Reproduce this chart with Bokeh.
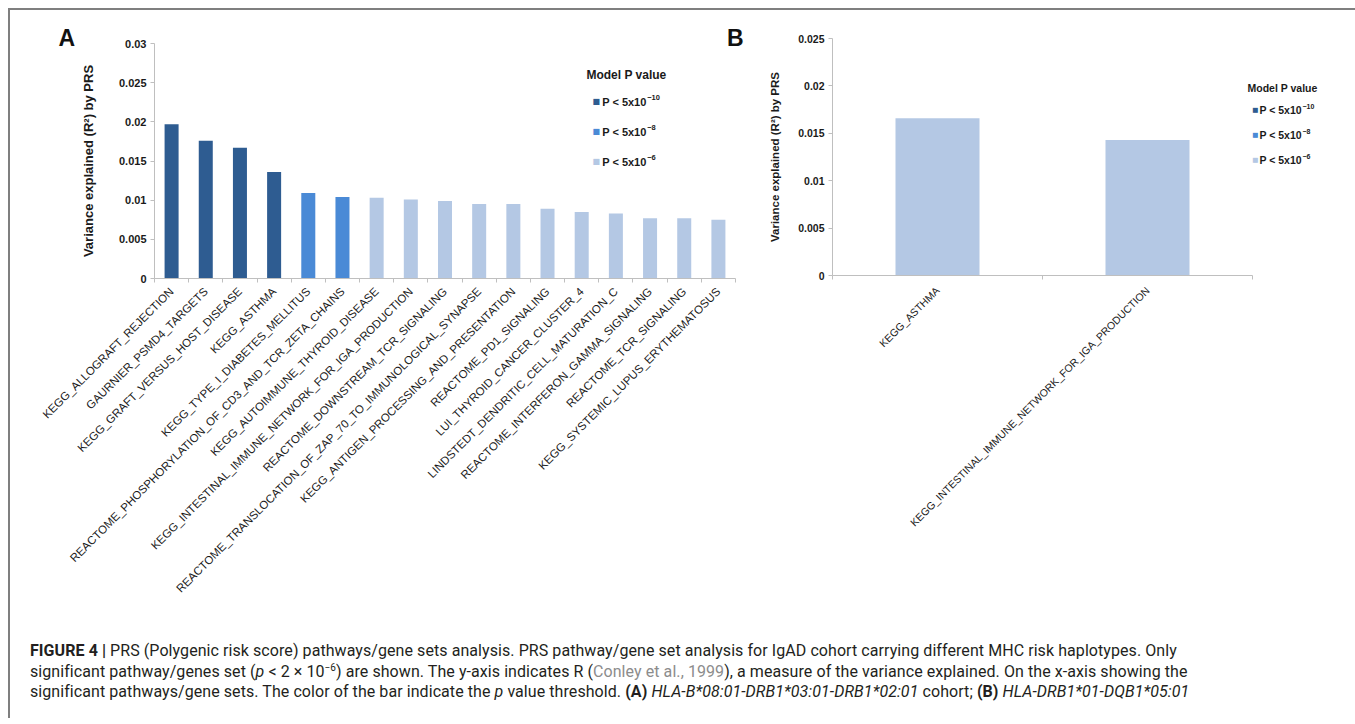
import math
from bokeh.plotting import figure
from bokeh.models import (Range1d, LinearAxis, FixedTicker, Label, Div, ColumnDataSource)
from bokeh.layouts import row, column
from bokeh.embed import file_html
from bokeh.resources import INLINE

# ---------------- data ----------------
cats_a = [
    "KEGG_ALLOGRAFT_REJECTION",
    "GAURNIER_PSMD4_TARGETS",
    "KEGG_GRAFT_VERSUS_HOST_DISEASE",
    "KEGG_ASTHMA",
    "KEGG_TYPE_I_DIABETES_MELLITUS",
    "REACTOME_PHOSPHORYLATION_OF_CD3_AND_TCR_ZETA_CHAINS",
    "KEGG_AUTOIMMUNE_THYROID_DISEASE",
    "KEGG_INTESTINAL_IMMUNE_NETWORK_FOR_IGA_PRODUCTION",
    "REACTOME_DOWNSTREAM_TCR_SIGNALING",
    "REACTOME_TRANSLOCATION_OF_ZAP_70_TO_IMMUNOLOGICAL_SYNAPSE",
    "KEGG_ANTIGEN_PROCESSING_AND_PRESENTATION",
    "REACTOME_PD1_SIGNALING",
    "LUI_THYROID_CANCER_CLUSTER_4",
    "LINDSTEDT_DENDRITIC_CELL_MATURATION_C",
    "REACTOME_INTERFERON_GAMMA_SIGNALING",
    "REACTOME_TCR_SIGNALING",
    "KEGG_SYSTEMIC_LUPUS_ERYTHEMATOSUS",
]
vals_a = [0.0197, 0.0176, 0.0167, 0.0136, 0.0109, 0.0104, 0.0103, 0.0101,
          0.0099, 0.0095, 0.0095, 0.0089, 0.0085, 0.0083, 0.0077, 0.0077, 0.0075]
groups_a = ["p10"] * 4 + ["p8"] * 2 + ["p6"] * 11

cats_b = ["KEGG_ASTHMA", "KEGG_INTESTINAL_IMMUNE_NETWORK_FOR_IGA_PRODUCTION"]
vals_b = [0.0166, 0.0143]
groups_b = ["p6", "p6"]

legend_keys = ["p10", "p8", "p6"]
legend_main = ["P < 5x10", "P < 5x10", "P < 5x10"]
legend_exp = ["\u221210", "\u22128", "\u22126"]
colors = {"p10": "#2E5C91", "p8": "#4A8AD6", "p6": "#B4C8E4"}

yticks_a = [0, 0.005, 0.01, 0.015, 0.02, 0.025, 0.03]
yticks_b = [0, 0.005, 0.01, 0.015, 0.02, 0.025]
ylabel = "Variance explained (R\u00b2) by PRS"
panel_letters = "A" + "\u00a0" * 102 + "B"

AXIS_GREY = "#BFBFBF"
TXT = "#1a1a1a"
FONT = "Liberation Sans"


def make_panel(cats, vals, groups, yticks, width, height, left, top, frame_w, frame_h,
               x_end, bar_w, tick_fs, ylab_fs, xlab_fs, ylab_standoff, xlab_standoff):
    right = width - left - frame_w
    bottom = height - top - frame_h
    n = len(cats)
    p = figure(x_range=Range1d(0, x_end), y_range=Range1d(0, yticks[-1]),
               width=width, height=height, output_backend="svg",
               toolbar_location=None, x_axis_location=None,
               min_border_left=left, min_border_right=right,
               min_border_top=top, min_border_bottom=bottom)
    p.outline_line_color = None
    p.grid.visible = False
    p.background_fill_color = "white"
    p.border_fill_color = "white"

    centers = [i + 0.5 for i in range(n)]
    src = ColumnDataSource(dict(x=centers, cat=cats, val=vals,
                                color=[colors[g] for g in groups]))
    p.vbar(x="x", top="val", width=bar_w, source=src,
           fill_color="color", line_color=None)

    ya = p.yaxis[0]
    ya.ticker = FixedTicker(ticks=yticks)
    ya.major_label_overrides = {t: f"{t:g}" for t in yticks}
    ya.minor_tick_line_color = None
    ya.axis_line_color = AXIS_GREY
    ya.major_tick_line_color = AXIS_GREY
    ya.major_tick_in = 0
    ya.major_tick_out = 4
    ya.major_label_standoff = 4
    ya.major_label_text_font = FONT
    ya.major_label_text_font_style = "bold"
    ya.major_label_text_font_size = tick_fs
    ya.major_label_text_color = TXT
    ya.axis_label = ylabel
    ya.axis_label_text_font = FONT
    ya.axis_label_text_font_style = "bold"
    ya.axis_label_text_font_size = ylab_fs
    ya.axis_label_text_color = TXT
    ya.axis_label_standoff = ylab_standoff

    # category names at bar centres, small ticks at category boundaries
    ca = LinearAxis(ticker=FixedTicker(ticks=centers,
                                       minor_ticks=list(range(n + 1))),
                    bounds=(0, n))
    ca.major_label_overrides = {c: name for c, name in zip(centers, cats)}
    ca.axis_line_color = AXIS_GREY
    ca.major_tick_line_color = None
    ca.major_tick_out = 0
    ca.major_tick_in = 0
    ca.minor_tick_line_color = AXIS_GREY
    ca.minor_tick_out = 4
    ca.minor_tick_in = 0
    ca.major_label_standoff = xlab_standoff
    ca.major_label_orientation = math.pi / 4
    ca.major_label_text_font = FONT
    ca.major_label_text_font_size = xlab_fs
    ca.major_label_text_color = TXT
    p.add_layout(ca, "below")
    return p


def add_legend(p, title_x, title_y, sq_x, txt_x, item_ys, title_fs, txt_fs, exp_fs,
               sq_fs, exp_dx, exp_dy):
    p.add_layout(Label(x=title_x, y=title_y, text="Model P value",
                       text_font=FONT, text_font_style="bold",
                       text_font_size=title_fs, text_color=TXT,
                       text_align="center", text_baseline="middle"))
    for key, main, exp, yy in zip(legend_keys, legend_main, legend_exp, item_ys):
        p.add_layout(Label(x=sq_x, y=yy, text="\u25a0", text_font="DejaVu Sans",
                           text_font_size=sq_fs, text_color=colors[key],
                           text_align="center", text_baseline="middle"))
        p.add_layout(Label(x=txt_x, y=yy, text=main, text_font=FONT,
                           text_font_style="bold", text_font_size=txt_fs,
                           text_color=TXT, text_align="left", text_baseline="middle"))
        p.add_layout(Label(x=txt_x, y=yy + exp_dy, x_offset=exp_dx, text=exp,
                           text_font=FONT, text_font_style="bold",
                           text_font_size=exp_fs, text_color=TXT,
                           text_align="left", text_baseline="middle"))


# ---------------- panel A ----------------
pa = make_panel(cats_a, vals_a, groups_a, yticks_a, width=743, height=620,
                left=144, top=33, frame_w=581, frame_h=235, x_end=len(cats_a),
                bar_w=0.41, tick_fs="11px", ylab_fs="13px", xlab_fs="11.5px",
                ylab_standoff=20, xlab_standoff=7)
add_legend(pa, title_x=13.81, title_y=0.02595, sq_x=12.93, txt_x=13.1,
           item_ys=[0.02255, 0.01872, 0.01489], title_fs="12px", txt_fs="11px",
           exp_fs="7.5px", sq_fs="8px", exp_dx=45, exp_dy=0.0005)
# panel letters "A" and "B" (B sits above the gap between the panels)
pa.title.text = panel_letters
pa.title.align = "left"
pa.title.offset = -96
pa.title.standoff = -14
pa.title.text_font = FONT
pa.title.text_font_style = "bold"
pa.title.text_font_size = "23px"
pa.title.text_color = "#111111"

# ---------------- panel B ----------------
pb = make_panel(cats_b, vals_b, groups_b, yticks_b, width=598, height=620,
                left=79, top=28, frame_w=511, frame_h=237, x_end=511 / 210,
                bar_w=0.4, tick_fs="10.5px", ylab_fs="11.5px", xlab_fs="10.5px",
                ylab_standoff=14, xlab_standoff=9)
add_legend(pb, title_x=2.143, title_y=0.01975, sq_x=2.014, txt_x=2.033,
           item_ys=[0.01743, 0.01479, 0.01215], title_fs="10.5px", txt_fs="10.5px",
           exp_fs="7px", sq_fs="6.5px", exp_dx=43, exp_dy=0.0004)

# ---------------- caption ----------------
caption = (
    "<div style=\"font-family:'Roboto'; font-size:16px; line-height:20.5px; "
    "color:#231f20; white-space:nowrap; padding:6px 0 0 15px; letter-spacing:0.07px;\">"
    "<b>FIGURE 4 |</b> PRS (Polygenic risk score) pathways/gene sets analysis. "
    "PRS pathway/gene set analysis for IgAD cohort carrying different MHC risk haplotypes. Only<br>"
    "significant pathway/genes set (<i>p</i> &lt; 2 &times; 10"
    "<sup style=\"font-size:10px; line-height:0\">&minus;6</sup>) "
    "are shown. The y-axis indicates R (<span style=\"color:#8c8c8c\">Conley et al., 1999</span>), "
    "a measure of the variance explained. On the x-axis showing the<br>"
    "significant pathways/gene sets. The color of the bar indicate the <i>p</i> value threshold. "
    "<b>(A)</b> <i>HLA-B*08:01-DRB1*03:01-DRB1*02:01</i> cohort; "
    "<b>(B)</b> <i>HLA-DRB1*01-DQB1*05:01</i>"
    "</div>"
)
cap = Div(text=caption, width=1341, height=78)

# each panel wrapped separately so that their frames are not aligned to each other
layout = column(row(column(pa), column(pb)), cap,
                styles={"margin-left": "8px", "margin-top": "8px",
                        "border-left": "2px solid #7f7f7f",
                        "border-top": "2px solid #7f7f7f",
                        "border-right": "2px solid #7f7f7f",
                        "background-color": "white"})

open("out.html", "w").write(file_html(layout, INLINE))
